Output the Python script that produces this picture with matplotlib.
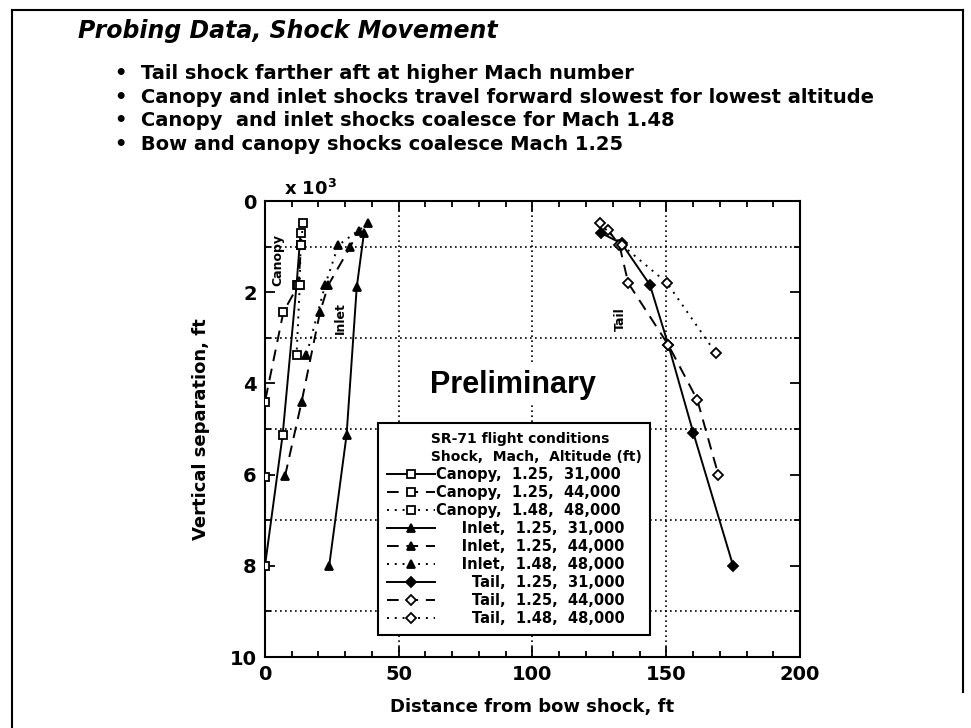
import matplotlib
matplotlib.use('Agg')
import matplotlib.pyplot as plt
from matplotlib.lines import Line2D

plt.rcParams['font.family'] = ['DejaVu Sans']
plt.rcParams['font.weight'] = 'bold'

# distance from bow shock (ft) vs vertical separation (x 10^3 ft)
canopy_31_x = [0.0, 6.6, 11.8, 13.3]
canopy_31_y = [8.0, 5.13, 1.84, 0.7]
canopy_44_x = [0.0, 0.0, 6.9, 12.5, 13.5]
canopy_44_y = [6.05, 4.4, 2.43, 1.84, 0.97]
canopy_48_x = [14.3, 13.3, 13.0, 11.8]
canopy_48_y = [0.49, 0.97, 1.84, 3.38]

inlet_31_x = [24.0, 30.5, 34.3, 37.0]
inlet_31_y = [8.0, 5.13, 1.89, 0.7]
inlet_44_x = [7.5, 13.7, 20.6, 23.7, 31.8, 35.0]
inlet_44_y = [6.03, 4.4, 2.43, 1.84, 1.01, 0.65]
inlet_48_x = [38.6, 27.4, 22.5, 15.5]
inlet_48_y = [0.49, 0.97, 1.84, 3.38]

tail_31_x = [125.5, 133.3, 143.9, 150.8, 160.1, 175.0]
tail_31_y = [0.7, 0.93, 1.84, 3.16, 5.08, 8.0]
tail_44_x = [128.3, 132.5, 135.8, 150.8, 161.6, 169.5]
tail_44_y = [0.64, 0.97, 1.8, 3.16, 4.36, 6.01]
tail_48_x = [125.1, 133.5, 150.2, 168.6]
tail_48_y = [0.49, 0.97, 1.79, 3.34]

names = ['Canopy,', 'Canopy,', 'Canopy,', 'Inlet,', 'Inlet,', 'Inlet,', 'Tail,', 'Tail,', 'Tail,']
machs = ['1.25,', '1.25,', '1.48,'] * 3
alts = ['31,000', '44,000', '48,000'] * 3

series = [
    (canopy_31_x, canopy_31_y, '-', 's', 'white'),
    (canopy_44_x, canopy_44_y, (0, (6, 4)), 's', 'white'),
    (canopy_48_x, canopy_48_y, (0, (1, 3)), 's', 'white'),
    (inlet_31_x, inlet_31_y, '-', '^', 'black'),
    (inlet_44_x, inlet_44_y, (0, (6, 4)), '^', 'black'),
    (inlet_48_x, inlet_48_y, (0, (1, 3)), '^', 'black'),
    (tail_31_x, tail_31_y, '-', 'D', 'black'),
    (tail_44_x, tail_44_y, (0, (6, 4)), 'D', 'white'),
    (tail_48_x, tail_48_y, (0, (1, 3)), 'D', 'white'),
]

fig = plt.figure(figsize=(9.71, 7.28), dpi=100)
ax = fig.add_axes([0.2729, 0.0975, 0.551, 0.6264])

handles = []
for x, y, ls, mk, fc in series:
    ms = 5 if mk == 'D' else 5.5
    ln, = ax.plot(x, y, color='black', linestyle=ls, lw=1.4, marker=mk,
                  markersize=ms, markerfacecolor=fc, markeredgecolor='black',
                  markeredgewidth=1.3, zorder=3)
    handles.append(ln)

ax.set_xlim(0, 200)
ax.set_ylim(10, 0)
ax.set_xticks([0, 50, 100, 150, 200])
ax.set_xticks(range(0, 201, 10), minor=True)
ax.set_yticks([0, 2, 4, 6, 8, 10])
ax.set_yticks(range(0, 11), minor=True)
ax.tick_params(which='both', direction='in', top=True, right=True, width=1.3)
ax.tick_params(which='major', length=7, labelsize=14, pad=6)
ax.tick_params(which='minor', length=4)
for lab in ax.get_xticklabels() + ax.get_yticklabels():
    lab.set_fontweight('bold')
ax.grid(True, which='major', axis='x', color='black', linestyle=(0, (1, 2)), lw=1.2)
ax.grid(True, which='minor', axis='y', color='black', linestyle=(0, (1, 2)), lw=1.2)
for s in ax.spines.values():
    s.set_linewidth(1.5)

ax.set_xlabel('Distance from bow shock, ft', fontsize=13, fontweight='bold', labelpad=10)
ax.set_ylabel('Vertical separation, ft', fontsize=13, fontweight='bold', labelpad=14)
ax.text(0.035, 1.005, r'x 10$^{\mathbf{3}}$', transform=ax.transAxes, fontsize=13,
        fontweight='bold', ha='left', va='bottom')

ax.text(4.9, 1.3, 'Canopy', rotation=90, fontsize=9, ha='center', va='center', fontweight='bold')
ax.text(28.0, 2.57, 'Inlet', rotation=90, fontsize=9, ha='center', va='center', fontweight='bold')
ax.text(132.7, 2.6, 'Tail', rotation=90, fontsize=9, ha='center', va='center', fontweight='bold')
ax.text(92.7, 4.03, 'Preliminary', fontsize=22, ha='center', va='center', fontweight='bold',
        family='Liberation Sans', bbox=dict(facecolor='white', edgecolor='none', pad=4), zorder=4)

# legend: shock names padded so the columns roughly line up
pad = {'Canopy,': '', 'Inlet,': '     ', 'Tail,': '       '}
labels = [pad[n] + n + '  ' + m + '  ' + a for n, m, a in zip(names, machs, alts)]
indent = ' ' * 9
leg = ax.legend(handles, labels, loc='upper left', bbox_to_anchor=(0.211, 0.513),
                title=indent + 'SR-71 flight conditions\n' + indent + 'Shock,  Mach,  Altitude (ft)',
                title_fontproperties={'weight': 'bold', 'size': 10},
                prop={'weight': 'bold', 'size': 10.5}, frameon=True, fancybox=False,
                edgecolor='black', framealpha=1, handlelength=3.3, handletextpad=0.1,
                labelspacing=0.21, borderpad=0.6, borderaxespad=0, alignment='left')
leg.get_title().set_multialignment('left')
leg.get_title().set_linespacing(1.35)
leg.get_frame().set_linewidth(1.5)
leg.set_zorder(5)

fig.text(0.08, 0.957, 'Probing Data, Shock Movement', fontsize=17, fontweight='bold',
         style='italic', ha='left', va='center')
bullets = ['Tail shock farther aft at higher Mach number',
           'Canopy and inlet shocks travel forward slowest for lowest altitude',
           'Canopy  and inlet shocks coalesce for Mach 1.48',
           'Bow and canopy shocks coalesce Mach 1.25']
for i, b in enumerate(bullets):
    fig.text(0.118, 0.899 - i * 0.0325, '\u2022  ' + b, fontsize=14, fontweight='bold',
             ha='left', va='center')

# page frame
fig.add_artist(Line2D([0.0124, 0.0124], [0.0, 0.986], color='black', lw=1.5))
fig.add_artist(Line2D([0.0124, 0.992], [0.986, 0.986], color='black', lw=1.5))
fig.add_artist(Line2D([0.992, 0.992], [0.05, 0.986], color='black', lw=1.5))

fig.savefig('out.png', dpi=100)
